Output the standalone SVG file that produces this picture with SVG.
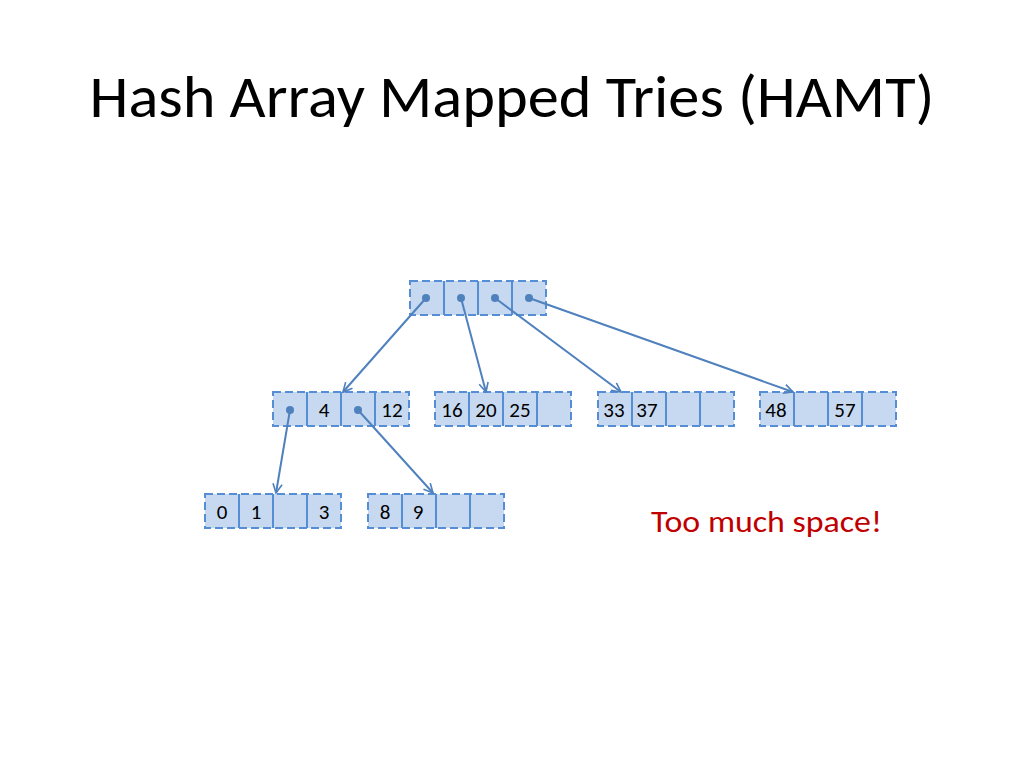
<svg xmlns="http://www.w3.org/2000/svg" width="1024" height="768" viewBox="0 0 1024 768">
<defs>
<style>
.box{fill:#c6d9f1;stroke:#558ed5;stroke-width:2;stroke-dasharray:8,4}
.div{stroke:#558ed5;stroke-width:2}
.lbl{font-family:Carlito,"Open Sans","Liberation Sans",sans-serif;font-size:21px;fill:#000;text-anchor:middle}
.dot{fill:#4f81bd}
.arr{stroke:#4f81bd;stroke-width:2;fill:none;marker-end:url(#ah)}
</style>
<marker id="ah" viewBox="0 0 12 12" refX="11" refY="6" markerWidth="11" markerHeight="11" markerUnits="userSpaceOnUse" orient="auto">
<path d="M1,1 L11,6 L1,11" fill="none" stroke="#4f81bd" stroke-width="1.8"/>
</marker>
<g id="cells">
<rect class="box" x="0" y="0" width="136" height="34"/>
<line class="div" x1="34" y1="0" x2="34" y2="34"/>
<line class="div" x1="68" y1="0" x2="68" y2="34"/>
<line class="div" x1="102" y1="0" x2="102" y2="34"/>
</g>
</defs>
<rect width="1024" height="768" fill="#fff"/>
<text x="512" y="117" font-family="Carlito,'Open Sans','Liberation Sans',sans-serif" font-size="59" text-anchor="middle" textLength="845" lengthAdjust="spacingAndGlyphs">Hash Array Mapped Tries (HAMT)</text>

<g id="root">
<use href="#cells" x="410" y="281"/>
<circle class="dot" cx="426" cy="298" r="4"/>
<circle class="dot" cx="461" cy="298" r="4"/>
<circle class="dot" cx="495" cy="298" r="4"/>
<circle class="dot" cx="529" cy="298" r="4"/>
</g>
<g id="nodeA">
<use href="#cells" x="273" y="392"/>
<circle class="dot" cx="290" cy="410" r="4"/>
<text class="lbl" x="324" y="417">4</text>
<circle class="dot" cx="358" cy="410" r="4"/>
<text class="lbl" x="392" y="417">12</text>
</g>
<g id="nodeB">
<use href="#cells" x="435" y="392"/>
<text class="lbl" x="452" y="417">16</text>
<text class="lbl" x="486" y="417">20</text>
<text class="lbl" x="520" y="417">25</text>
</g>
<g id="nodeC">
<use href="#cells" x="598" y="392"/>
<text class="lbl" x="614" y="417">33</text>
<text class="lbl" x="647" y="417">37</text>
</g>
<g id="nodeD">
<use href="#cells" x="760" y="392"/>
<text class="lbl" x="776" y="417">48</text>
<text class="lbl" x="845" y="417">57</text>
</g>
<g id="nodeE">
<use href="#cells" x="205" y="494"/>
<text class="lbl" x="222" y="519">0</text>
<text class="lbl" x="256" y="519">1</text>
<text class="lbl" x="324" y="519">3</text>
</g>
<g id="nodeF">
<use href="#cells" x="368" y="494"/>
<text class="lbl" x="385" y="519">8</text>
<text class="lbl" x="418" y="519">9</text>
</g>
<g id="connectors">
<line class="arr" x1="426" y1="298" x2="343" y2="392"/>
<line class="arr" x1="461" y1="298" x2="486" y2="392"/>
<line class="arr" x1="495" y1="298" x2="621" y2="392"/>
<line class="arr" x1="529" y1="298" x2="793" y2="392"/>
<line class="arr" x1="290" y1="410" x2="276" y2="493"/>
<line class="arr" x1="358" y1="410" x2="433" y2="493"/>
</g>
<text x="651" y="532" font-family="Carlito,'Open Sans','Liberation Sans',sans-serif" font-size="31" fill="#c00000" textLength="231" lengthAdjust="spacingAndGlyphs">Too much space!</text>
</svg>
